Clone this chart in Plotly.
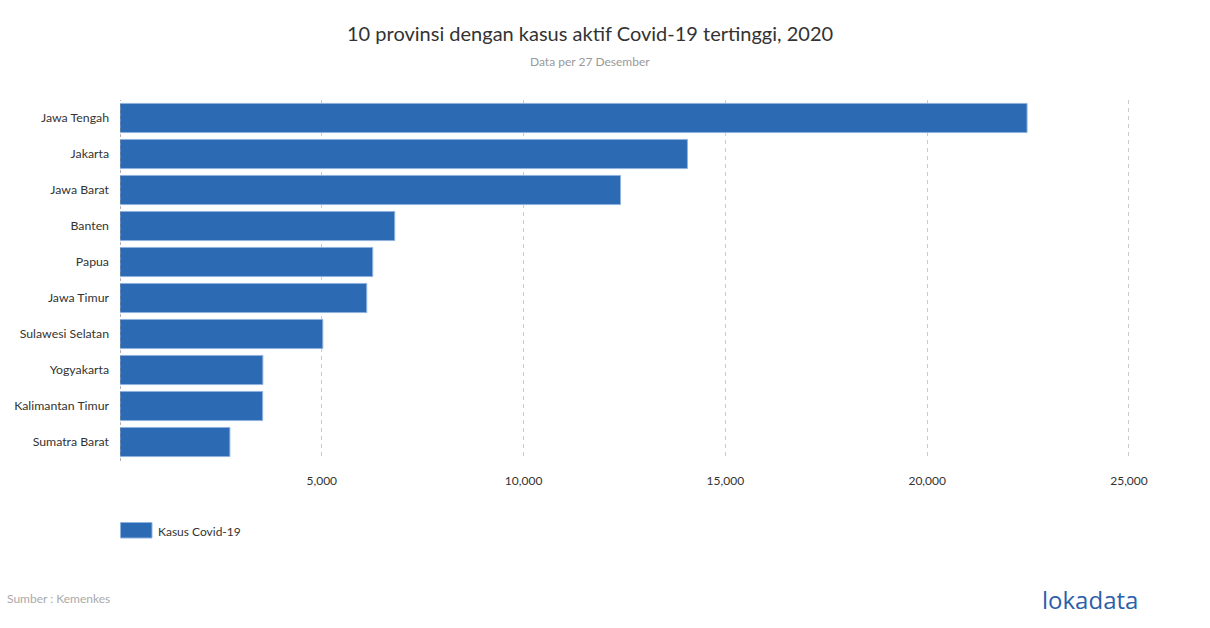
import plotly.graph_objects as go

provinces = ["Jawa Tengah", "Jakarta", "Jawa Barat", "Banten", "Papua", "Jawa Timur",
             "Sulawesi Selatan", "Yogyakarta", "Kalimantan Timur", "Sumatra Barat"]
cases = [22475, 14059, 12401, 6807, 6262, 6114, 5025, 3540, 3535, 2723]
x_ticks = [0, 5000, 10000, 15000, 20000, 25000]
x_tick_labels = ["", "5,000", "10,000", "15,000", "20,000", "25,000"]
series_name = "Kasus Covid-19"

W, H = 1210, 628
L, R, T, B = 120, 79, 100, 168
BAR_COLOR = "#2c6bb4"
BAR_EDGE = "#8fb3df"

fig = go.Figure()
fig.add_trace(go.Bar(
    y=provinces, x=cases, orientation="h", name=series_name,
    marker=dict(color=BAR_COLOR, line=dict(color=BAR_EDGE, width=1)),
    showlegend=False,
))

fig.update_layout(
    width=W, height=H,
    margin=dict(l=L, r=R, t=T, b=B),
    paper_bgcolor="white", plot_bgcolor="white",
    font=dict(family="Lato, 'Open Sans', sans-serif", size=12, color="#333333"),
    bargap=0.19,
    xaxis=dict(range=[0, 25050], tickvals=x_ticks, ticktext=x_tick_labels,
               showgrid=True, gridcolor="#cccccc", griddash="4px,4px", gridwidth=1,
               zeroline=False, showline=False, ticks="", ticklabelstandoff=12,
               tickfont=dict(size=12, color="#333333")),
    yaxis=dict(autorange="reversed", showgrid=False, zeroline=False, showline=False,
               ticks="", ticklabelstandoff=10, tickfont=dict(size=12.3, color="#333333")),
)


def px_x(px):
    return (px - L) / (W - L - R)


def px_y(py):
    return (H - B - py) / (H - T - B)


# dashed left axis line at x = 0
fig.add_shape(type="line", xref="x", yref="paper", x0=0, x1=0, y0=px_y(461), y1=1,
              line=dict(color="#666666", width=1, dash="3px,3px"))

# legend (custom, wide swatch)
fig.add_shape(type="rect", xref="paper", yref="paper",
              x0=px_x(120.5), x1=px_x(152), y0=px_y(538), y1=px_y(522.5),
              fillcolor=BAR_COLOR, line=dict(color=BAR_EDGE, width=1))
fig.add_annotation(text=series_name, xref="paper", yref="paper",
                   x=px_x(156), y=px_y(531), xanchor="left", yanchor="middle",
                   showarrow=False, font=dict(size=12, color="#333333"))

fig.add_annotation(text="10 provinsi dengan kasus aktif Covid-19 tertinggi, 2020",
                   xref="paper", yref="paper", x=px_x(590), y=px_y(33),
                   xanchor="center", yanchor="middle", showarrow=False,
                   font=dict(size=20, color="#333333"))
fig.add_annotation(text="Data per 27 Desember",
                   xref="paper", yref="paper", x=px_x(590), y=px_y(62),
                   xanchor="center", yanchor="middle", showarrow=False,
                   font=dict(size=12, color="#999999"))
fig.add_annotation(text="Sumber : Kemenkes",
                   xref="paper", yref="paper", x=px_x(5), y=px_y(598),
                   xanchor="left", yanchor="middle", showarrow=False,
                   font=dict(size=12, color="#aaaaaa"))
fig.add_annotation(text="lokadata",
                   xref="paper", yref="paper", x=px_x(1140), y=px_y(599),
                   xanchor="right", yanchor="middle", showarrow=False,
                   font=dict(size=24, color="#2c5fa8", family="'Open Sans', Lato, sans-serif"))

fig.write_html("out.html", config={"displayModeBar": False},
               post_script="document.body.style.margin='0';document.body.style.padding='0';")
